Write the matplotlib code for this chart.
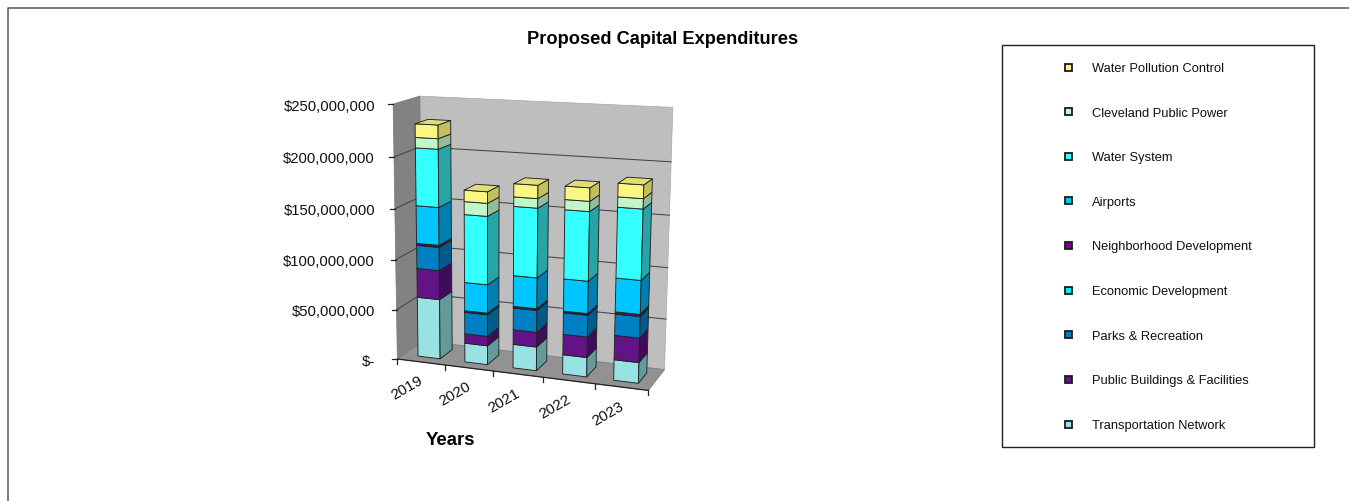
import numpy as np
import matplotlib
matplotlib.use("Agg")
import matplotlib.pyplot as plt
from matplotlib.patches import Polygon, Rectangle

plt.rcParams['font.family'] = ['Liberation Sans', 'DejaVu Sans']

years = ['2019', '2020', '2021', '2022', '2023']
# Millions of dollars, bottom of the stack first
transportation = [60, 19, 23.5, 19, 20]
public_buildings = [29, 9.5, 14.5, 20, 23.5]
parks = [23, 21.5, 21.5, 21, 20.5]
economic_dev = [0.4, 0.4, 0.4, 0.4, 0.4]
neighborhood = [1.6, 1.2, 1.2, 1.2, 1.7]
airports = [37, 28, 30, 31, 32]
water_system = [56, 66.5, 66.5, 65.5, 66]
public_power = [10, 12.5, 9, 9.5, 9.5]
water_pollution = [13, 11, 12.5, 12.5, 12.5]

series_names = ['Transportation Network', 'Public Buildings & Facilities',
                'Parks & Recreation', 'Economic Development',
                'Neighborhood Development', 'Airports', 'Water System',
                'Cleveland Public Power', 'Water Pollution Control']
series_values = [transportation, public_buildings, parks, economic_dev,
                 neighborhood, airports, water_system, public_power,
                 water_pollution]
front_colors = ['#99E2E4', '#621486', '#0080C4', '#00F0F0', '#800080',
                '#00C6FF', '#33FFFF', '#C0F6C8', '#FBF582']
side_colors = ['#659A9C', '#3E0C58', '#005A8A', '#009090', '#500050',
               '#007FAE', '#28A4A6', '#94BC9A', '#C4C05E']
top_color = '#E2DE74'

y_ticks = [0, 50, 100, 150, 200, 250]
y_tick_labels = ['$-', '$50,000,000', '$100,000,000', '$150,000,000',
                 '$200,000,000', '$250,000,000']
y_max = 250.0

# Box corners on the canvas: (u, v, w) -> pixel, u along years, v up, w into depth
corners = {
    (0, 0, 0): (399, 359), (1, 0, 0): (648, 393),
    (0, 1, 0): (392, 105), (1, 1, 0): (656, 117),
    (0, 0, 1): (421, 343), (1, 0, 1): (665, 369),
    (0, 1, 1): (421, 97), (1, 1, 1): (673, 109),
}


def fit_camera(pairs):
    rows = []
    for (u, v, w), (x, y) in pairs.items():
        rows.append([u, v, w, 1, 0, 0, 0, 0, -x*u, -x*v, -x*w, -x])
        rows.append([0, 0, 0, 0, u, v, w, 1, -y*u, -y*v, -y*w, -y])
    _, _, vt = np.linalg.svd(np.array(rows, float))
    return vt[-1].reshape(3, 4)


CAM = fit_camera(corners)


def project(u, v, w):
    p = CAM @ np.array([u, v, w, 1.0])
    return p[0] / p[2], p[1] / p[2]


def face(ax, pts, fc, ec='#222222', lw=0.65, z=2):
    ax.add_patch(Polygon([project(*p) for p in pts], closed=True, fc=fc,
                         ec=ec, lw=lw, zorder=z, joinstyle='round'))


fig = plt.figure(figsize=(13.49, 5.02), dpi=100)
ax = fig.add_axes([0, 0, 1, 1])
ax.set_xlim(0, 1349)
ax.set_ylim(502, 0)
ax.axis('off')

# Outer chart frame: only the top and left edges fall inside the canvas
ax.plot([7.5, 7.5, 1349], [502, 8.5, 8.5], color='#555555', lw=1.1, zorder=1)

# Walls and floor
face(ax, [(0, 0, 1), (1, 0, 1), (1, 1, 1), (0, 1, 1)], '#BEBEBE', '#a8a8a8', 0.5)
face(ax, [(0, 0, 0), (0, 0, 1), (0, 1, 1), (0, 1, 0)], '#828282', '#777777', 0.5)
face(ax, [(0, 0, 0), (1, 0, 0), (1, 0, 1), (0, 0, 1)], '#929292', '#777777', 0.5)

# Gridlines across the side wall and back wall, plus value ticks and labels
for val, lab in zip(y_ticks, y_tick_labels):
    v = val / y_max
    p0, p1, p2 = project(0, v, 0), project(0, v, 1), project(1, v, 1)
    if 0 < val < y_max:
        ax.plot([p0[0], p1[0], p2[0]], [p0[1], p1[1], p2[1]],
                color='#444444', lw=0.75, zorder=2.1)
    ax.plot([p0[0] - 5, p0[0]], [p0[1], p0[1]], color='#222222', lw=0.9, zorder=2.1)
    ax.text(375, p0[1] + 1.5, lab, ha='right', va='center', fontsize=10.75, color='#111111')

# Category axis along the front edge of the floor
p_a, p_b = project(0, 0, 0), project(1, 0, 0)
ax.plot([p_a[0], p_b[0]], [p_a[1], p_b[1]], color='#222222', lw=0.9, zorder=2.1)
n = len(years)
for i in range(n + 1):
    x, y = project(i / n, 0, 0)
    ax.plot([x, x], [y, y + 5], color='#222222', lw=0.9, zorder=2.1)
for i, yr in enumerate(years):
    x, y = project((i + 0.5) / n, 0, 0)
    ax.text(x - 14, y + 25.5, yr, rotation=30, ha='center', va='center',
            fontsize=11, color='#111111', rotation_mode='anchor')

# Stacked bars; the left-hand columns sit a touch right of their slot centre
bar_half = 0.047
bar_shift = [0.008, 0.006, 0.004, 0.002, 0.0]
w_front, w_back = 0.25, 0.75
for i in range(n):
    uc = (i + 0.5) / n + bar_shift[i]
    u0, u1 = uc - bar_half, uc + bar_half
    base = 0.0
    for vals, fc, sc in zip(series_values, front_colors, side_colors):
        v0 = base / y_max
        base += vals[i]
        v1 = base / y_max
        face(ax, [(u0, v0, w_front), (u1, v0, w_front), (u1, v1, w_front),
                  (u0, v1, w_front)], fc, z=3 + i)
        face(ax, [(u1, v0, w_front), (u1, v0, w_back), (u1, v1, w_back),
                  (u1, v1, w_front)], sc, z=3 + i)
    face(ax, [(u0, v1, w_front), (u1, v1, w_front), (u1, v1, w_back),
              (u0, v1, w_back)], top_color, z=3 + i)

# Titles
ax.text(662.5, 40, 'Proposed Capital Expenditures', ha='center', va='center',
        fontsize=13.15, fontweight='bold', color='black')
ax.text(450.5, 440.5, 'Years', ha='center', va='center', fontsize=13.4,
        fontweight='bold', color='black')

# Legend, top of the stack listed first
ax.add_patch(Rectangle((1002, 46), 312, 401.5, fc='white', ec='#222222', lw=1.0, zorder=2))
legend_y = np.linspace(68, 425, len(series_names))
for name, col, ly in zip(series_names[::-1], front_colors[::-1], legend_y):
    ax.add_patch(Rectangle((1064.5, ly - 3.5), 7, 7, fc=col, ec='#1a1a1a', lw=1.3, zorder=3))
    ax.text(1092, ly + 1, name, ha='left', va='center', fontsize=9.25, color='#111111')

fig.savefig('out.png', dpi=100)
